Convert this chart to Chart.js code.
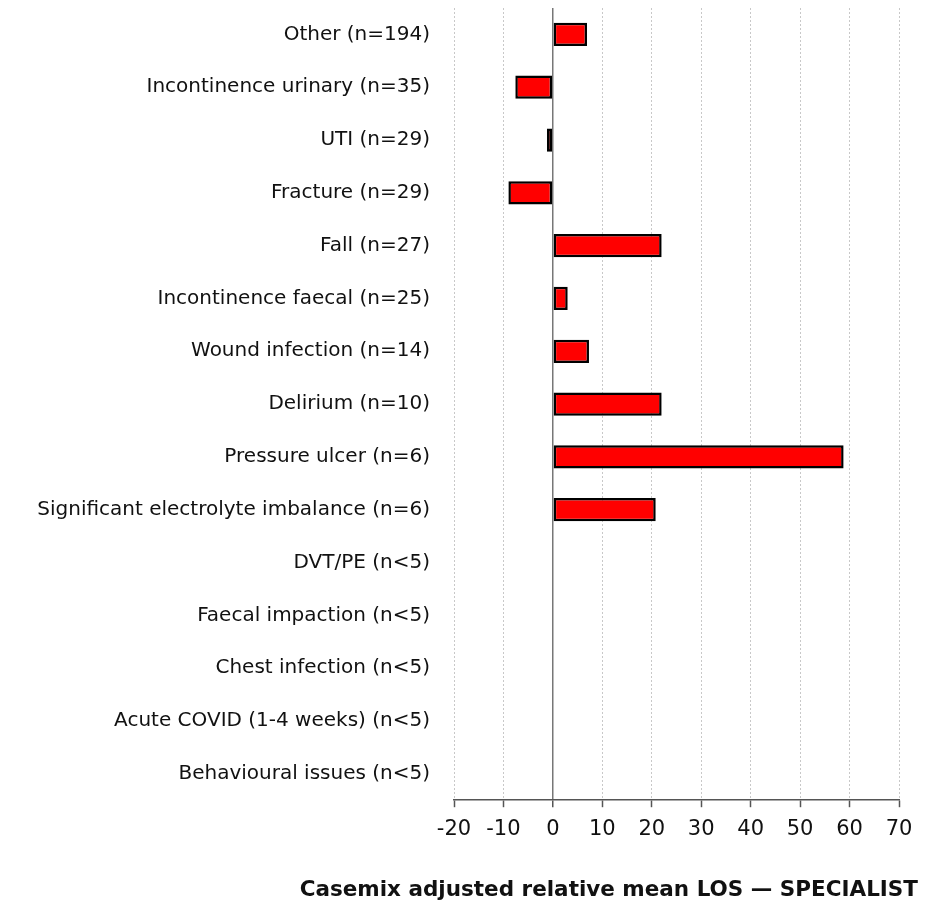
<!DOCTYPE html>
<html>
<head>
<meta charset="utf-8">
<script src="https://cdn.jsdelivr.net/npm/chart.js@4/dist/chart.umd.min.js"></script>
<style>
  html, body { margin: 0; padding: 0; background: #fff; }
  #wrap { width: 933px; height: 908px; position: relative; }
</style>
</head>
<body>
<div id="wrap"><canvas id="c"></canvas></div>
<script>
const categories = [
  "Other (n=194)",
  "Incontinence urinary (n=35)",
  "UTI (n=29)",
  "Fracture (n=29)",
  "Fall (n=27)",
  "Incontinence faecal (n=25)",
  "Wound infection (n=14)",
  "Delirium (n=10)",
  "Pressure ulcer (n=6)",
  "Significant electrolyte imbalance (n=6)",
  "DVT/PE (n<5)",
  "Faecal impaction (n<5)",
  "Chest infection (n<5)",
  "Acute COVID (1-4 weeks) (n<5)",
  "Behavioural issues (n<5)"
];
const losValues = [6.9, -7.6, -1.2, -9.0, 22.0, 3.0, 7.3, 22.0, 58.8, 20.8, null, null, null, null, null];
const xTicks = [-20, -10, 0, 10, 20, 30, 40, 50, 60, 70];
const axisTitle = "Casemix adjusted relative mean LOS \u2014 SPECIALIST";

const FONT = "'DejaVu Sans', sans-serif";

new Chart(document.getElementById('c'), {
  type: 'bar',
  data: {
    labels: categories,
    datasets: [{
      data: losValues,
      backgroundColor: '#ff0000',
      borderColor: '#000000',
      borderWidth: 2.5,
      borderSkipped: false,
      barPercentage: 0.8,
      categoryPercentage: 0.55
    }]
  },
  options: {
    indexAxis: 'y',
    responsive: true,
    maintainAspectRatio: false,
    animation: false,
    layout: { padding: { top: 8, right: 15, bottom: 0, left: 0 } },
    plugins: {
      legend: { display: false },
      tooltip: { enabled: false },
      title: {
        display: true,
        position: 'bottom',
        align: 'end',
        text: axisTitle,
        color: '#111',
        font: { family: FONT, size: 21.5, weight: 'bold' },
        padding: { top: 29, bottom: 5 }
      }
    },
    scales: {
      x: {
        type: 'linear',
        min: xTicks[0],
        max: xTicks[xTicks.length - 1],
        afterBuildTicks: (s) => { s.ticks = xTicks.map(v => ({ value: v })); },
        afterFit: (s) => { s.height = 48; s.paddingRight = 34; s.paddingLeft = 0; },
        grid: {
          color: (ctx) => (ctx.tick && ctx.tick.value === 0) ? '#777' : '#c8c8c8',
          lineWidth: (ctx) => (ctx.tick && ctx.tick.value === 0) ? 1.5 : 1,
          drawTicks: true,
          tickLength: 7,
          tickColor: '#555',
          tickWidth: 1.5
        },
        border: {
          display: true,
          color: '#555',
          width: 1.5,
          dash: (ctx) => (ctx.tick && ctx.tick.value === 0) ? [] : [2, 2]
        },
        ticks: {
          color: '#111',
          font: { family: FONT, size: 21 },
          padding: 10,
          maxRotation: 0,
          autoSkip: false
        }
      },
      y: {
        afterFit: (s) => { s.width = 454; s.paddingTop = 0; s.paddingBottom = 0; },
        grid: { display: false, drawTicks: false },
        border: { display: false },
        ticks: {
          color: '#111',
          font: { family: FONT, size: 20 },
          padding: 24,
          autoSkip: false
        }
      }
    }
  }
});
</script>
</body>
</html>
